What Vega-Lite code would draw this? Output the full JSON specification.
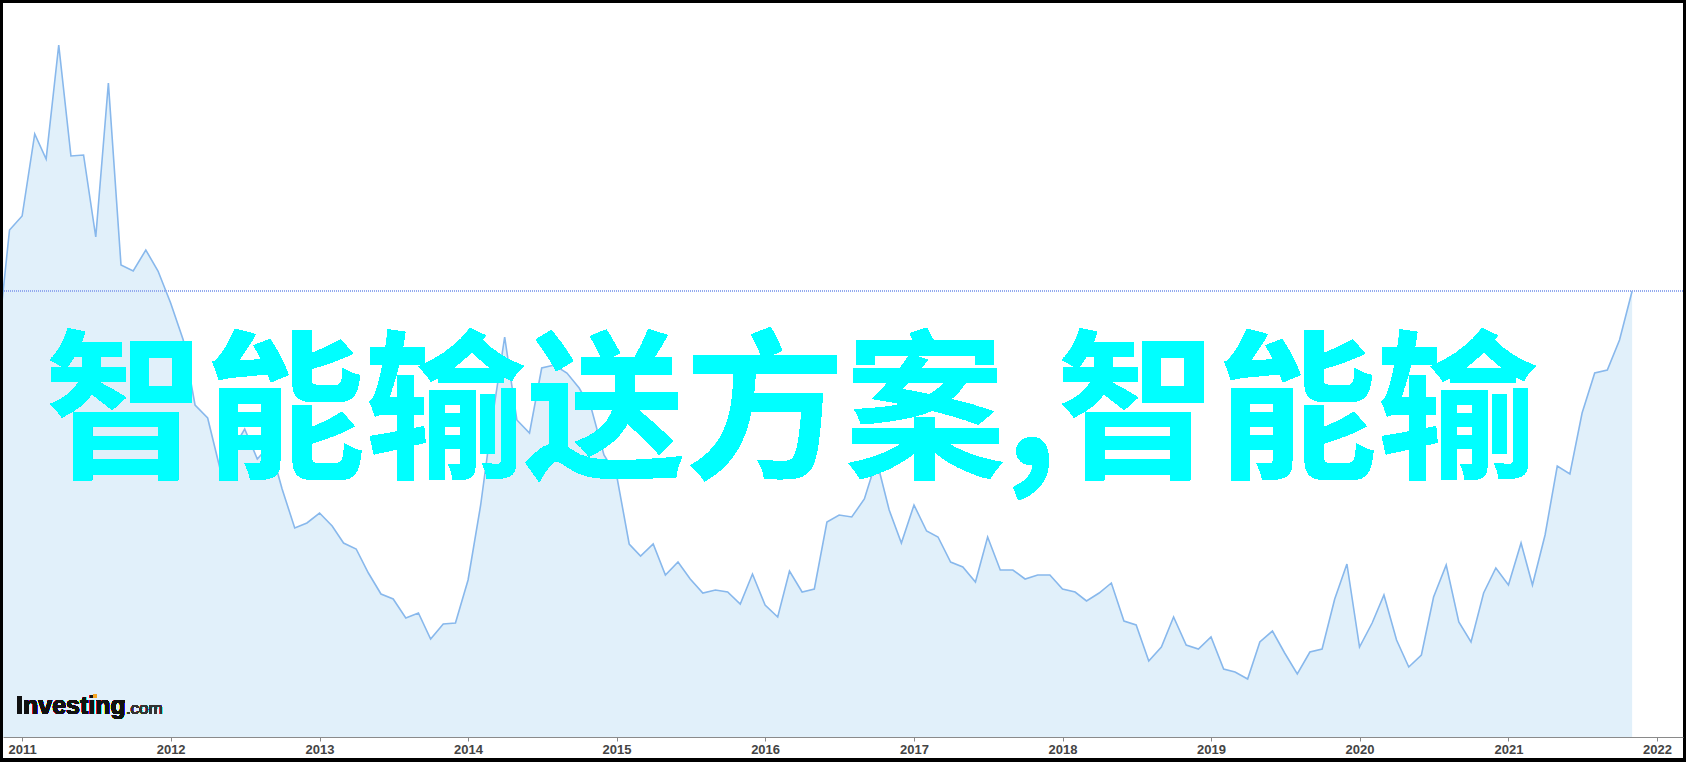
{
  "$schema": "https://vega.github.io/schema/vega-lite/v6.json",
  "width": 1680,
  "height": 755,
  "autosize": "none",
  "padding": {"left": 3, "top": 3, "right": 3, "bottom": 4},
  "background": "#000000",
  "config": {"view": {"fill": "#ffffff", "stroke": null}},
  "data": {"values": [
    {"d": "2010-11-01", "v": 390}, {"d": "2010-12-01", "v": 507},
    {"d": "2011-01-01", "v": 521}, {"d": "2011-02-01", "v": 603}, {"d": "2011-03-01", "v": 578}, {"d": "2011-04-01", "v": 692},
    {"d": "2011-05-01", "v": 581}, {"d": "2011-06-01", "v": 582}, {"d": "2011-07-01", "v": 500}, {"d": "2011-08-01", "v": 654},
    {"d": "2011-09-01", "v": 472}, {"d": "2011-10-01", "v": 466}, {"d": "2011-11-01", "v": 487}, {"d": "2011-12-01", "v": 466},
    {"d": "2012-01-01", "v": 434}, {"d": "2012-02-01", "v": 397}, {"d": "2012-03-01", "v": 332}, {"d": "2012-04-01", "v": 319},
    {"d": "2012-05-01", "v": 269}, {"d": "2012-06-01", "v": 287}, {"d": "2012-07-01", "v": 308}, {"d": "2012-08-01", "v": 278},
    {"d": "2012-09-01", "v": 292}, {"d": "2012-10-01", "v": 248}, {"d": "2012-11-01", "v": 209}, {"d": "2012-12-01", "v": 214},
    {"d": "2013-01-01", "v": 224}, {"d": "2013-02-01", "v": 211}, {"d": "2013-03-01", "v": 194}, {"d": "2013-04-01", "v": 188},
    {"d": "2013-05-01", "v": 164}, {"d": "2013-06-01", "v": 143}, {"d": "2013-07-01", "v": 138}, {"d": "2013-08-01", "v": 119},
    {"d": "2013-09-01", "v": 124}, {"d": "2013-10-01", "v": 98}, {"d": "2013-11-01", "v": 113}, {"d": "2013-12-01", "v": 114},
    {"d": "2014-01-01", "v": 157}, {"d": "2014-02-01", "v": 232}, {"d": "2014-03-01", "v": 317}, {"d": "2014-04-01", "v": 400},
    {"d": "2014-05-01", "v": 317}, {"d": "2014-06-01", "v": 304}, {"d": "2014-07-01", "v": 369}, {"d": "2014-08-01", "v": 372},
    {"d": "2014-09-01", "v": 364}, {"d": "2014-10-01", "v": 349}, {"d": "2014-11-01", "v": 327}, {"d": "2014-12-01", "v": 282},
    {"d": "2015-01-01", "v": 262}, {"d": "2015-02-01", "v": 193}, {"d": "2015-03-01", "v": 181}, {"d": "2015-04-01", "v": 193},
    {"d": "2015-05-01", "v": 162}, {"d": "2015-06-01", "v": 175}, {"d": "2015-07-01", "v": 158}, {"d": "2015-08-01", "v": 144},
    {"d": "2015-09-01", "v": 147}, {"d": "2015-10-01", "v": 145}, {"d": "2015-11-01", "v": 133}, {"d": "2015-12-01", "v": 163},
    {"d": "2016-01-01", "v": 132}, {"d": "2016-02-01", "v": 120}, {"d": "2016-03-01", "v": 166}, {"d": "2016-04-01", "v": 145},
    {"d": "2016-05-01", "v": 148}, {"d": "2016-06-01", "v": 215}, {"d": "2016-07-01", "v": 222}, {"d": "2016-08-01", "v": 220},
    {"d": "2016-09-01", "v": 238}, {"d": "2016-10-01", "v": 277}, {"d": "2016-11-01", "v": 227}, {"d": "2016-12-01", "v": 194},
    {"d": "2017-01-01", "v": 232}, {"d": "2017-02-01", "v": 206}, {"d": "2017-03-01", "v": 200}, {"d": "2017-04-01", "v": 175},
    {"d": "2017-05-01", "v": 170}, {"d": "2017-06-01", "v": 155}, {"d": "2017-07-01", "v": 200}, {"d": "2017-08-01", "v": 167},
    {"d": "2017-09-01", "v": 167}, {"d": "2017-10-01", "v": 158}, {"d": "2017-11-01", "v": 162}, {"d": "2017-12-01", "v": 162},
    {"d": "2018-01-01", "v": 148}, {"d": "2018-02-01", "v": 145}, {"d": "2018-03-01", "v": 136}, {"d": "2018-04-01", "v": 144},
    {"d": "2018-05-01", "v": 154}, {"d": "2018-06-01", "v": 116}, {"d": "2018-07-01", "v": 112}, {"d": "2018-08-01", "v": 76},
    {"d": "2018-09-01", "v": 90}, {"d": "2018-10-01", "v": 120}, {"d": "2018-11-01", "v": 92}, {"d": "2018-12-01", "v": 88},
    {"d": "2019-01-01", "v": 100}, {"d": "2019-02-01", "v": 68}, {"d": "2019-03-01", "v": 65}, {"d": "2019-04-01", "v": 58},
    {"d": "2019-05-01", "v": 95}, {"d": "2019-06-01", "v": 106}, {"d": "2019-07-01", "v": 84}, {"d": "2019-08-01", "v": 63},
    {"d": "2019-09-01", "v": 85}, {"d": "2019-10-01", "v": 88}, {"d": "2019-11-01", "v": 138}, {"d": "2019-12-01", "v": 173},
    {"d": "2020-01-01", "v": 90}, {"d": "2020-02-01", "v": 114}, {"d": "2020-03-01", "v": 142}, {"d": "2020-04-01", "v": 97},
    {"d": "2020-05-01", "v": 70}, {"d": "2020-06-01", "v": 82}, {"d": "2020-07-01", "v": 140}, {"d": "2020-08-01", "v": 172},
    {"d": "2020-09-01", "v": 115}, {"d": "2020-10-01", "v": 95}, {"d": "2020-11-01", "v": 144}, {"d": "2020-12-01", "v": 169},
    {"d": "2021-01-01", "v": 152}, {"d": "2021-02-01", "v": 194}, {"d": "2021-03-01", "v": 152}, {"d": "2021-04-01", "v": 202},
    {"d": "2021-05-01", "v": 271}, {"d": "2021-06-01", "v": 263}, {"d": "2021-07-01", "v": 324}, {"d": "2021-08-01", "v": 364},
    {"d": "2021-09-01", "v": 367}, {"d": "2021-10-01", "v": 397}, {"d": "2021-11-01", "v": 446}
  ]},
  "layer": [
    {
      "mark": {"type": "area", "color": "#e1f0fa", "clip": true},
      "encoding": {
        "x": {
          "field": "d", "type": "temporal",
          "scale": {"type": "utc", "domain": [1289779200000, 1646524800000], "nice": false},
          "axis": {
            "orient": "bottom", "offset": -21, "zindex": 1, "title": null, "grid": false,
            "format": "%Y", "tickCount": {"interval": "year", "step": 1},
            "domainColor": "#8a8a8a", "domainWidth": 1, "tickColor": "#8a8a8a", "tickSize": 4,
            "labelFont": "Liberation Sans", "labelFontWeight": "bold", "labelFontSize": 13,
            "labelColor": "#444444", "labelPadding": 2, "labelFlush": false, "labelOverlap": false
          }
        },
        "y": {"field": "v", "type": "quantitative", "scale": {"domain": [-21, 734], "nice": false, "zero": false}, "axis": null},
        "y2": {"datum": 0}
      }
    },
    {
      "mark": {"type": "line", "color": "#88b8ec", "strokeWidth": 1.6, "clip": true},
      "encoding": {
        "x": {"field": "d", "type": "temporal"},
        "y": {"field": "v", "type": "quantitative"}
      }
    },
    {
      "mark": {"type": "rule", "color": "#93a9ee", "strokeWidth": 1, "strokeDash": [1, 1]},
      "encoding": {"y": {"datum": 446, "type": "quantitative"}}
    },
    {
      "mark": {"type": "text", "text": "智能输送方案,智能输", "font": "Noto Sans CJK SC", "fontWeight": "bold", "fontSize": 160, "color": "#00ffff", "align": "left", "baseline": "alphabetic"},
      "encoding": {
        "x": {"datum": 1298678400000, "type": "temporal"},
        "y": {"datum": 271, "type": "quantitative"}
      }
    },
    {
      "mark": {"type": "text", "text": "Investing", "font": "Liberation Sans", "fontWeight": "bold", "fontSize": 25, "color": "#111111", "align": "left", "baseline": "alphabetic"},
      "encoding": {
        "x": {"datum": 1292544000000, "type": "temporal"},
        "y": {"datum": 23, "type": "quantitative"}
      }
    },
    {
      "mark": {"type": "text", "text": ".com", "font": "Liberation Sans", "fontSize": 17, "color": "#333333", "align": "left", "baseline": "alphabetic"},
      "encoding": {
        "x": {"datum": 1315872000000, "type": "temporal"},
        "y": {"datum": 23, "type": "quantitative"}
      }
    },
    {
      "mark": {"type": "point", "shape": "square", "filled": true, "size": 14, "color": "#f5a623", "opacity": 1},
      "encoding": {
        "x": {"datum": 1309305600000, "type": "temporal"},
        "y": {"datum": 41, "type": "quantitative"}
      }
    }
  ]
}
